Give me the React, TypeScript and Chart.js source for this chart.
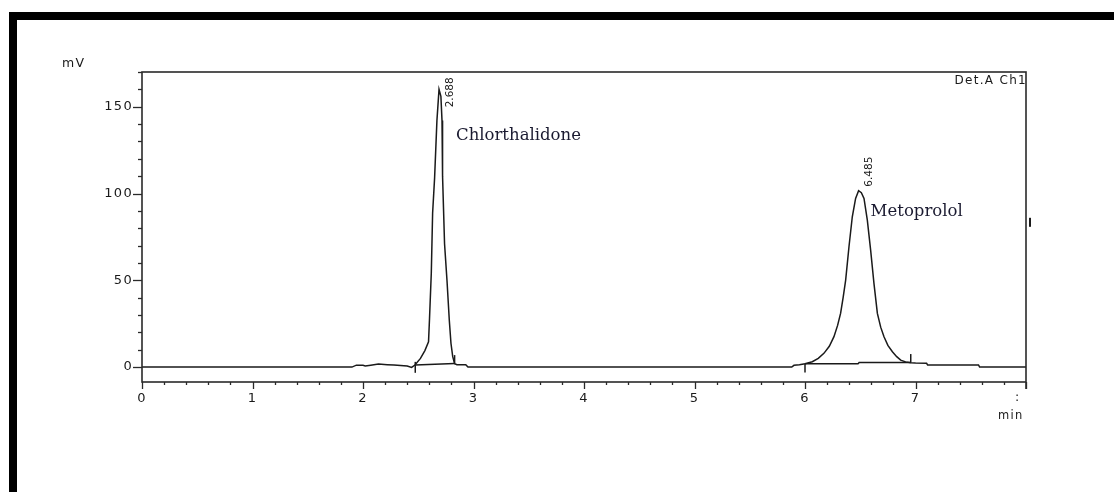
import { useEffect, useRef } from 'react';
import { Chart, registerables } from 'chart.js';

Chart.register(...registerables);

// ---- data ----
const traceTime = [
  0.0, 1.9, 1.94, 2.0, 2.02, 2.07, 2.14, 2.22, 2.28, 2.4, 2.44, 2.47, 2.52, 2.56, 2.593, 2.602, 2.618, 2.63,
  2.648, 2.669, 2.688, 2.705, 2.715, 2.72, 2.738, 2.76, 2.781, 2.796, 2.812, 2.829, 2.85, 2.93, 2.95, 5.88,
  5.9, 5.95, 6.0, 6.066, 6.12, 6.171, 6.22, 6.262, 6.295, 6.322, 6.345, 6.368, 6.398, 6.428, 6.458, 6.485,
  6.51, 6.534, 6.564, 6.594, 6.624, 6.655, 6.685, 6.715, 6.75, 6.791, 6.83, 6.866, 6.91, 6.957, 7.0, 7.1,
  7.11, 7.57, 7.58, 8.0,
];
const traceSignal = [
  0, 0, 1.1, 1.0, 0.6, 1.1, 1.7, 1.4, 1.2, 0.6, -0.2, 1.2, 5, 9.5, 14.6, 28, 54, 88.6,
  109, 142, 160, 156, 142, 110, 71, 50, 27, 13.7, 6, 2, 1.4, 1.4, 0, 0,
  1.0, 1.3, 1.9, 3.1, 5.0, 7.9, 12, 17.5, 24, 30.9, 40, 50.1, 69.3, 86.6, 97.2, 101.6,
  100.5, 97.2, 84.7, 67.4, 48.2, 30.9, 23, 17.5, 12.5, 8.8, 6, 4.0, 3.0, 2.5, 2.3, 2.2,
  1.2, 1.2, 0.1, 0.1,
];

// integration baselines
const base1Time = [2.473, 2.829];
const base1Signal = [1.2, 2.0];
const base2Time = [6.0, 6.48, 6.49, 6.957];
const base2Signal = [1.9, 1.9, 2.6, 2.6];

// integration start / end markers
const markerTime = [2.473, 2.829, 6.0, 6.957];
const markerLow = [-3.3, 2.1, -3.1, 2.5];
const markerHigh = [3.0, 6.9, 2.1, 7.5];

// peaks
const peakTime = [2.688, 6.485];
const peakHeight = [160, 101.6];
const peakLabels = ['2.688', '6.485'];
const compoundNames = ['Chlorthalidone', 'Metoprolol'];

// axes
const xTickValues = [0, 1, 2, 3, 4, 5, 6, 7];
const yTickValues = [0, 50, 100, 150];
const xMin = 0;
const xMax = 8;
const yMin = -8.6;
const yMax = 170;
const xMinorStep = 0.2;
const yMinorStep = 10;

const INK = '#1a1a1a';
const SANS = '"DejaVu Sans", sans-serif';

const decorPlugin = {
  id: 'decor',
  beforeDraw(chart: any) {
    chart.ctx.letterSpacing = '1.3px';
  },
  afterDraw(chart: any) {
    const { ctx, chartArea, scales } = chart;
    const { left, top, right, bottom } = chartArea;
    const xs = scales.x;
    const ys = scales.y;
    ctx.save();
    ctx.strokeStyle = '#2a2a2a';
    ctx.lineWidth = 1.6;
    ctx.strokeRect(left, top, right - left, bottom - top);
    ctx.beginPath();
    ctx.moveTo(right, bottom);
    ctx.lineTo(right, bottom + 7);
    ctx.stroke();

    // x ticks
    ctx.lineWidth = 1.3;
    const nx = Math.round((xMax - xMin) / xMinorStep);
    for (let i = 0; i <= nx; i++) {
      const v = xMin + i * xMinorStep;
      const px = Math.round(xs.getPixelForValue(v)) + 0.5;
      const len = i % 5 === 0 ? 7 : 3;
      ctx.beginPath();
      ctx.moveTo(px, bottom);
      ctx.lineTo(px, bottom + len);
      ctx.stroke();
    }
    // y ticks
    for (let v = 0; v <= yMax; v += yMinorStep) {
      const py = Math.round(ys.getPixelForValue(v)) + 0.5;
      const len = v % 50 === 0 ? 9 : 4;
      ctx.beginPath();
      ctx.moveTo(left, py);
      ctx.lineTo(left - len, py);
      ctx.stroke();
    }

    // axis texts
    ctx.fillStyle = INK;
    ctx.font = '12.5px ' + SANS;
    ctx.letterSpacing = '1.3px';
    ctx.textBaseline = 'middle';
    ctx.textAlign = 'left';
    ctx.fillText('mV', 62, 64);
    ctx.font = '11.5px ' + SANS;
    ctx.fillText('min', 998, 416);
    ctx.font = '12.5px ' + SANS;
    ctx.fillText(':', xs.getPixelForValue(xMax) - 11, 398);
    ctx.font = '12px ' + SANS;
    ctx.textAlign = 'right';
    ctx.fillText('Det.A Ch1', right + 1, top + 9);

    // small mark right of the frame
    ctx.fillRect(right + 3, ys.getPixelForValue(86), 2, 9);

    // peak retention-time labels (rotated)
    ctx.font = '10.5px ' + SANS;
    ctx.letterSpacing = '0px';
    const rtOffsets = [
      [11, 18],
      [11, -4],
    ];
    peakTime.forEach((t, i) => {
      const px = xs.getPixelForValue(t) + rtOffsets[i][0];
      const py = ys.getPixelForValue(peakHeight[i]) + rtOffsets[i][1];
      ctx.save();
      ctx.translate(px, py);
      ctx.rotate(-Math.PI / 2);
      ctx.textAlign = 'left';
      ctx.textBaseline = 'middle';
      ctx.fillText(peakLabels[i], 0, 0);
      ctx.restore();
    });

    // compound names
    ctx.font = '16.5px "DejaVu Serif", serif';
    ctx.fillStyle = '#1a1a30';
    ctx.textAlign = 'left';
    ctx.textBaseline = 'middle';
    const nameOffsets = [
      [17, 46],
      [12, 21],
    ];
    peakTime.forEach((t, i) => {
      const px = xs.getPixelForValue(t) + nameOffsets[i][0];
      const py = ys.getPixelForValue(peakHeight[i]) + nameOffsets[i][1];
      ctx.fillText(compoundNames[i], px, py);
    });
    ctx.restore();
  },
};

export default function App() {
  const ref = useRef<HTMLCanvasElement>(null);

  useEffect(() => {
    const canvas = ref.current;
    if (!canvas) return;
    const lineStyle = {
      borderColor: INK,
      borderWidth: 1.5,
      pointRadius: 0,
      fill: false,
      tension: 0,
    };
    const datasets: any[] = [
      {
        ...lineStyle,
        data: traceTime.map((t, i) => ({ x: t, y: traceSignal[i] })),
      },
      {
        ...lineStyle,
        data: base1Time.map((t, i) => ({ x: t, y: base1Signal[i] })),
      },
      {
        ...lineStyle,
        data: base2Time.map((t, i) => ({ x: t, y: base2Signal[i] })),
      },
      ...markerTime.map((t, i) => ({
        ...lineStyle,
        data: [
          { x: t, y: markerLow[i] },
          { x: t, y: markerHigh[i] },
        ],
      })),
    ];

    const tickFont = { family: SANS, size: 13 };
    const chart = new Chart(canvas, {
      type: 'line',
      data: { datasets },
      options: {
        animation: false,
        responsive: false,
        parsing: false as any,
        layout: { padding: { left: 0, top: 72, right: 88, bottom: 80 } },
        plugins: { legend: { display: false }, tooltip: { enabled: false } },
        scales: {
          x: {
            type: 'linear',
            min: xMin,
            max: xMax,
            afterBuildTicks: (s: any) => {
              s.ticks = xTickValues.map((value) => ({ value }));
            },
            afterFit: (s: any) => {
              s.height = 30;
              s.paddingLeft = 0;
              s.paddingRight = 0;
            },
            grid: { display: false, drawTicks: false },
            border: { display: false },
            ticks: {
              font: tickFont,
              color: INK,
              padding: 9,
              maxRotation: 0,
              autoSkip: false,
              callback: (v: any) => String(v),
            },
          },
          y: {
            type: 'linear',
            min: yMin,
            max: yMax,
            afterBuildTicks: (s: any) => {
              s.ticks = yTickValues.map((value) => ({ value }));
            },
            afterFit: (s: any) => {
              s.width = 142;
              s.paddingTop = 0;
              s.paddingBottom = 0;
            },
            grid: { display: false, drawTicks: false },
            border: { display: false },
            ticks: {
              font: tickFont,
              color: INK,
              padding: 9,
              autoSkip: false,
              callback: (v: any) => String(v),
            },
          },
        },
      },
      plugins: [decorPlugin],
    });
    return () => chart.destroy();
  }, []);

  return (
    <div
      style={{
        position: 'fixed',
        left: 0,
        top: 0,
        width: 1114,
        height: 492,
        background: '#fff',
        overflow: 'hidden',
      }}
    >
      <canvas
        ref={ref}
        width={1114}
        height={492}
        style={{ position: 'absolute', left: 0, top: 0, width: 1114, height: 492, display: 'block' }}
      />
      <div style={{ position: 'absolute', left: 9, top: 12, right: 0, height: 8, background: '#000' }} />
      <div style={{ position: 'absolute', left: 9, top: 12, width: 8, bottom: 0, background: '#000' }} />
    </div>
  );
}
